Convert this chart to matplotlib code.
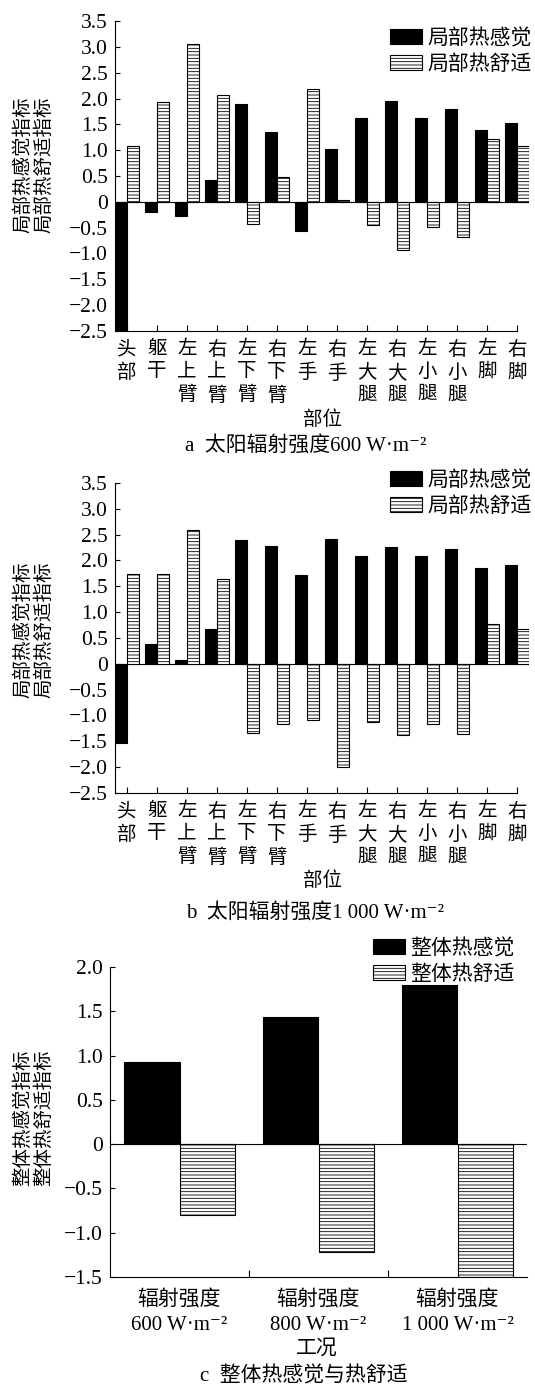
import matplotlib
matplotlib.use('Agg')
import matplotlib.pyplot as plt
from matplotlib.patches import Patch

plt.rcParams['font.family'] = ['Liberation Serif', 'DejaVu Serif', 'Noto Sans CJK SC']
plt.rcParams['hatch.linewidth'] = 0.6
plt.rcParams['axes.unicode_minus'] = True

W, H = 535, 1390
FS = 15       # legend / captions
FS_TICK = 14  # category labels
FS_NUM = 15.5 # numeric y tick labels

# body parts (stacked one character per line)
parts = ['头\n部', '躯\n干', '左\n上\n臂', '右\n上\n臂', '左\n下\n臂', '右\n下\n臂', '左\n手',
         '右\n手', '左\n大\n腿', '右\n大\n腿', '左\n小\n腿', '右\n小\n腿', '左\n脚', '右\n脚']

# local thermal sensation / comfort, 600 W/m2
sens_600 = [-2.5, -0.19, -0.27, 0.42, 1.90, 1.36, -0.56, 1.03, 1.62, 1.95, 1.62, 1.79, 1.40, 1.53]
comf_600 = [1.08, 1.94, 3.06, 2.06, -0.43, 0.48, 2.18, 0.04, -0.45, -0.93, -0.48, -0.69, 1.22, 1.08]

# local thermal sensation / comfort, 1000 W/m2
sens_1000 = [-1.53, 0.39, 0.08, 0.68, 2.39, 2.29, 1.72, 2.42, 2.09, 2.27, 2.09, 2.23, 1.85, 1.92]
comf_1000 = [1.73, 1.73, 2.59, 1.64, -1.34, -1.17, -1.09, -1.99, -1.13, -1.38, -1.16, -1.36, 0.78, 0.68]

# overall sensation / comfort per case
cases = ['辐射强度\n600 W·m⁻²', '辐射强度\n800 W·m⁻²', '辐射强度\n1 000 W·m⁻²']
sens_all = [0.93, 1.43, 1.80]
comf_all = [-0.80, -1.22, -1.50]

HATCH = '-----'


def add_axes_px(fig, left, top, right, bottom):
    return fig.add_axes([left / W, 1 - bottom / H, (right - left) / W, (bottom - top) / H])


def fmt(v):
    if abs(v) < 1e-9:
        return '0'
    return f'{v:.1f}'.replace('-', '\u2212')


def style_axes(ax, yticks):
    for s in ['top', 'right']:
        ax.spines[s].set_visible(False)
    for s in ['left', 'bottom']:
        ax.spines[s].set_linewidth(0.8)
    ax.set_yticks(yticks)
    ax.set_yticklabels([fmt(v) for v in yticks], fontsize=FS_NUM)
    ax.tick_params(axis='y', direction='in', length=3.5, width=0.8, pad=5)
    ax.axhline(0, color='black', lw=0.8, zorder=1)


def legend(ax, labels, x_px, y_px):
    handles = [Patch(facecolor='black', edgecolor='black', lw=0.8),
               Patch(facecolor='white', edgecolor='black', lw=0.8, hatch=HATCH)]
    ax.legend(handles, labels, loc='upper right', bbox_to_anchor=(x_px / W, 1 - y_px / H),
              bbox_transform=ax.figure.transFigure, frameon=False, fontsize=FS,
              handlelength=1.55, handleheight=0.72, handletextpad=0.25,
              labelspacing=0.28, borderpad=0, borderaxespad=0)


def ylabel(fig, y_px, first, second):
    # two vertical columns, first one on the left
    fig.text(23 / W, 1 - y_px / H, first, fontsize=14, rotation=90, ha='center', va='center')
    fig.text(44 / W, 1 - y_px / H, second, fontsize=14, rotation=90, ha='center', va='center')


def parts_panel(fig, top, bottom, sens, comf, caption, lab_y, cap_y, cap_x, ylab_y, leg_y):
    ax = add_axes_px(fig, 115, top, 529, bottom)
    x = list(range(len(parts)))
    ax.bar([i - 0.2 for i in x], sens, width=0.4, color='black', edgecolor='black', lw=0.8, zorder=2)
    ax.bar([i + 0.2 for i in x], comf, width=0.4, color='white', edgecolor='black', lw=0.8,
           hatch=HATCH, zorder=2)
    ax.set_xlim(-0.4, 13.4)
    ax.set_ylim(-2.5, 3.5)
    style_axes(ax, [-2.5 + 0.5 * k for k in range(13)])
    ax.spines['bottom'].set_bounds(-0.4, 13)
    ax.set_xticks(x)
    ax.set_xticklabels(parts, fontsize=FS_TICK, linespacing=1.39, va='top')
    ax.tick_params(axis='x', direction='in', length=4, width=0.8, pad=7)
    legend(ax, ['局部热感觉', '局部热舒适'], 532, leg_y)
    fig.text(322 / W, 1 - lab_y / H, '部位', fontsize=FS_TICK, ha='center', va='center')
    fig.text(cap_x / W, 1 - cap_y / H, caption, fontsize=FS, ha='center', va='center')
    ylabel(fig, ylab_y, '局部热感觉指标', '局部热舒适指标')
    return ax


fig = plt.figure(figsize=(W / 100, H / 100), dpi=100)

parts_panel(fig, 21, 331, sens_600, comf_600, 'a  太阳辐射强度600 W·m⁻²', 420, 446, 306, 165, 29)
parts_panel(fig, 483, 793, sens_1000, comf_1000, 'b  太阳辐射强度1 000 W·m⁻²', 881, 913, 315, 630, 471)

# overall comparison between the three radiation levels
axc = add_axes_px(fig, 110, 967, 527, 1277)
xc = list(range(len(cases)))
axc.bar([i - 0.2 for i in xc], sens_all, width=0.4, color='black', edgecolor='black', lw=0.8, zorder=2)
axc.bar([i + 0.2 for i in xc], comf_all, width=0.4, color='white', edgecolor='black', lw=0.8,
        hatch=HATCH, zorder=2)
axc.set_xlim(-0.5, 2.5)
axc.set_ylim(-1.5, 2.0)
style_axes(axc, [-1.5 + 0.5 * k for k in range(8)])
axc.set_xticks(xc)
axc.set_xticklabels(cases, fontsize=15, linespacing=1.45, va='top')
axc.set_xticks([0.5, 1.5], minor=True)
axc.tick_params(axis='x', which='major', length=0, pad=9)
axc.tick_params(axis='x', which='minor', direction='in', length=5, width=0.8)
legend(axc, ['整体热感觉', '整体热舒适'], 515, 939)
fig.text(317 / W, 1 - 1349 / H, '工况', fontsize=15, ha='center', va='center')
fig.text(304 / W, 1 - 1376 / H, 'c  整体热感觉与热舒适', fontsize=FS, ha='center', va='center')
ylabel(fig, 1118, '整体热感觉指标', '整体热舒适指标')

fig.savefig('out.png', dpi=100)
